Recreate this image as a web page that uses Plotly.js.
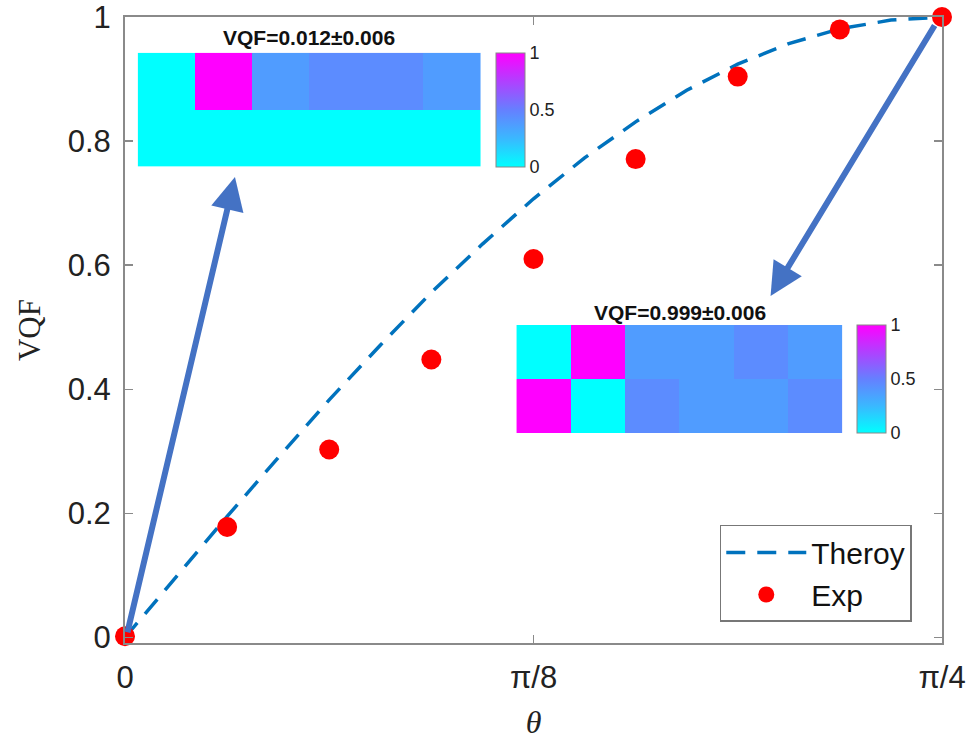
<!DOCTYPE html>
<html>
<head>
<meta charset="utf-8">
<script src="https://cdn.plot.ly/plotly-3.0.1.min.js"></script>
<style>html,body{margin:0;padding:0;background:#fff}#chart{width:972px;height:742px}</style>
</head>
<body>
<div id="chart"></div>
<script>
// Theory curve, theta in radians
const theoryTheta = [0, 0.0491, 0.0982, 0.1473, 0.1963, 0.2454, 0.2945, 0.3436, 0.3927, 0.4418, 0.4909, 0.5400, 0.5890, 0.6381, 0.6872, 0.7363, 0.7854];
const theoryVQF   = [0, 0.098, 0.195, 0.290, 0.383, 0.471, 0.556, 0.634, 0.707, 0.773, 0.831, 0.882, 0.924, 0.957, 0.981, 0.995, 1.0];
// Experimental points
const expTheta = [0, 0.0982, 0.1963, 0.2945, 0.3927, 0.4909, 0.5890, 0.6872, 0.7854];
const expVQF   = [0.002, 0.178, 0.303, 0.448, 0.610, 0.771, 0.904, 0.980, 1.0];
const expErr   = [0.006, 0.006, 0.006, 0.006, 0.006, 0.006, 0.006, 0.006, 0.006];
// Axis ticks
const xTickVals = [0, 0.3927, 0.7854];
const xTickText = ['0', 'π/8', 'π/4'];
const yTickVals = [0, 0.2, 0.4, 0.6, 0.8, 1];
const yTickText = ['0', '0.2', '0.4', '0.6', '0.8', '1'];
// Inset heatmaps
const inset1Z = [[0, 1, 0.375, 0.447, 0.447, 0.375], [0, 0, 0, 0, 0, 0]];
const inset2Z = [[0, 1, 0.375, 0.375, 0.447, 0.375], [1, 0, 0.447, 0.375, 0.375, 0.447]];
const inset1Title = 'VQF=0.012±0.006';
const inset2Title = 'VQF=0.999±0.006';
// Arrows: [tail theta, tail VQF, head theta, head VQF]
const arrow1 = [0.002, 0.006, 0.1057, 0.742];
const arrow2 = [0.7792, 0.9887, 0.6206, 0.5504];

const cool = [[0, '#00ffff'], [0.25, '#3ab8ff'], [0.5, '#6580ff'], [0.75, '#b040ff'], [1, '#ff00ff']];
const axisGray = '#8a8a8a';
const sans = 'Liberation Sans, Arial, Helvetica, sans-serif';
const serif = 'Liberation Serif, Times New Roman, serif';

const cbCommon = {
  thickness: 29, thicknessmode: 'pixels', lenmode: 'fraction',
  xanchor: 'left', yanchor: 'middle', xpad: 0, ypad: 0,
  outlinecolor: '#888', outlinewidth: 1,
  tickvals: [0, 0.5, 1], ticktext: ['0', '0.5', '1'],
  ticks: '', ticklabelstandoff: 3, tickfont: {family: sans, size: 18, color: '#222'}
};

const traces = [
  {
    x: theoryTheta, y: theoryVQF, type: 'scatter', mode: 'lines', name: 'Theroy',
    line: {color: '#0072bd', width: 3.5, dash: '19px,12px'}, xaxis: 'x', yaxis: 'y'
  },
  {
    x: expTheta, y: expVQF, type: 'scatter', mode: 'markers', name: 'Exp',
    marker: {color: '#ff0000', size: 20},
    error_y: {type: 'data', array: expErr, visible: true, color: '#ff0000', thickness: 3, width: 6},
    cliponaxis: false, xaxis: 'x', yaxis: 'y'
  },
  {
    z: inset1Z, type: 'heatmap', colorscale: cool, zmin: 0, zmax: 1, xaxis: 'x2', yaxis: 'y2',
    showlegend: false, hoverinfo: 'skip',
    colorbar: Object.assign({}, cbCommon, {x: 0.4547, y: 0.852, len: 0.182})
  },
  {
    z: inset2Z, type: 'heatmap', colorscale: cool, zmin: 0, zmax: 1, xaxis: 'x3', yaxis: 'y3',
    showlegend: false, hoverinfo: 'skip',
    colorbar: Object.assign({}, cbCommon, {x: 0.8963, y: 0.4215, len: 0.173})
  }
];

function arrowAnn(a) {
  return {
    x: a[2], y: a[3], ax: a[0], ay: a[1], xref: 'x', yref: 'y', axref: 'x', ayref: 'y',
    text: '', showarrow: true, arrowhead: 2, arrowsize: 1.1, arrowwidth: 6, arrowcolor: '#4472c4'
  };
}

const hidden = {showgrid: false, zeroline: false, showticklabels: false, ticks: '', showline: false};

const layout = {
  width: 972, height: 742,
  margin: {l: 125, r: 29.5, t: 17, b: 99},
  paper_bgcolor: '#fff', plot_bgcolor: 'rgba(0,0,0,0)',
  showlegend: true,
  legend: {
    x: 0.728, y: 0.1885, xanchor: 'left', yanchor: 'top',
    bgcolor: '#fff', bordercolor: '#777', borderwidth: 1.5,
    font: {family: sans, size: 30, color: '#111'}, itemwidth: 80
  },
  xaxis: {
    domain: [0, 1], range: [0, 0.7854], tickvals: xTickVals, ticktext: xTickText,
    ticks: 'inside', ticklen: 8, tickwidth: 1.5, tickcolor: axisGray,
    showline: true, linecolor: axisGray, linewidth: 2, mirror: 'ticks',
    showgrid: false, zeroline: false, ticklabelstandoff: 6, ticklabeloverflow: 'allow',
    tickfont: {family: sans, size: 31, color: '#222'},
    title: {text: '<i>θ</i>', font: {family: serif, size: 32, color: '#222'}, standoff: 16}
  },
  yaxis: {
    domain: [0, 1], range: [-0.0089, 1], tickvals: yTickVals, ticktext: yTickText,
    ticks: 'inside', ticklen: 8, tickwidth: 1.5, tickcolor: axisGray,
    showline: true, linecolor: axisGray, linewidth: 2, mirror: 'ticks',
    showgrid: false, zeroline: false, ticklabelstandoff: 6, ticklabeloverflow: 'allow',
    tickfont: {family: sans, size: 31, color: '#222'},
    title: {text: 'VQF', font: {family: serif, size: 31, color: '#222'}, standoff: 18}
  },
  xaxis2: Object.assign({}, hidden, {domain: [0.0155, 0.4355], anchor: 'y2'}),
  yaxis2: Object.assign({}, hidden, {domain: [0.761, 0.943], anchor: 'x2', autorange: 'reversed'}),
  xaxis3: Object.assign({}, hidden, {domain: [0.479, 0.878], anchor: 'y3'}),
  yaxis3: Object.assign({}, hidden, {domain: [0.335, 0.508], anchor: 'x3', autorange: 'reversed'}),
  annotations: [
    arrowAnn(arrow1), arrowAnn(arrow2),
    {text: '<b>' + inset1Title + '</b>', xref: 'paper', yref: 'paper', x: 0.225, y: 0.9665,
     xanchor: 'center', yanchor: 'middle', showarrow: false, font: {family: sans, size: 21, color: '#111'}},
    {text: '<b>' + inset2Title + '</b>', xref: 'paper', yref: 'paper', x: 0.679, y: 0.5276,
     xanchor: 'center', yanchor: 'middle', showarrow: false, font: {family: sans, size: 21, color: '#111'}}
  ]
};

Plotly.newPlot('chart', traces, layout, {displayModeBar: false, staticPlot: true});
</script>
</body>
</html>
